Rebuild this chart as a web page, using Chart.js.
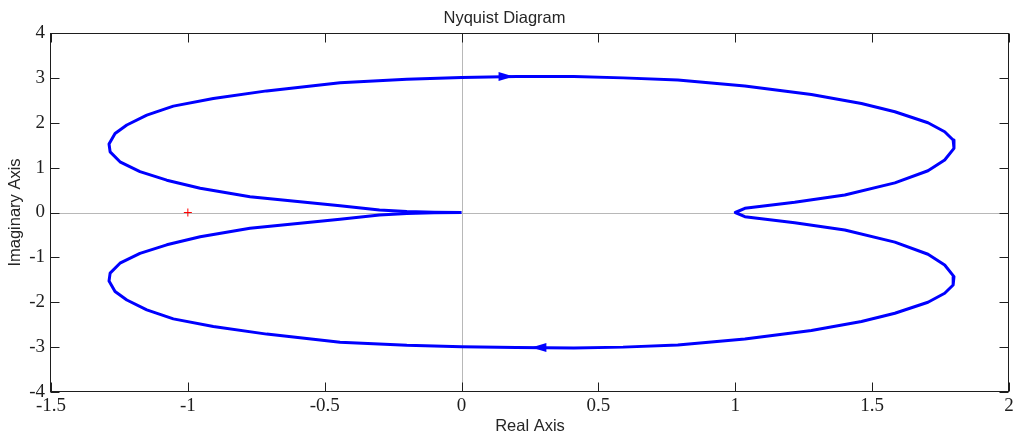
<!DOCTYPE html>
<html>
<head>
<meta charset="utf-8">
<script src="https://cdn.jsdelivr.net/npm/chart.js@4.4.0/dist/chart.umd.min.js"></script>
<style>
  html, body { margin: 0; padding: 0; background: #ffffff; }
  #wrap { width: 1018px; height: 435px; }
</style>
</head>
<body>
<div id="wrap"><canvas id="nyquist" width="1018" height="435"></canvas></div>
<script>
// Nyquist path, traversed from the origin: upper half (left lobe, top, right lobe), then lower half back.
const realPart = [
  0, -0.1, -0.2, -0.3, -0.444, -0.59, -0.773, -0.955, -1.077, -1.175, -1.248, -1.284, -1.288,
  -1.266, -1.223, -1.15, -1.053, -0.907, -0.712, -0.444, -0.2, 0, 0.2, 0.41, 0.59, 0.79,
  1.035, 1.278, 1.461, 1.583, 1.704, 1.765, 1.796, 1.799, 1.765, 1.704, 1.583, 1.40, 1.217,
  1.035, 1.0,
  1.035, 1.217, 1.40, 1.583, 1.704, 1.765, 1.799, 1.796, 1.765, 1.704, 1.583, 1.461, 1.278,
  1.035, 0.79, 0.59, 0.41, 0.2, 0, -0.2, -0.444, -0.712, -0.907, -1.053, -1.15, -1.223,
  -1.266, -1.288, -1.284, -1.248, -1.175, -1.077, -0.955, -0.773, -0.59, -0.444, -0.3, -0.2,
  -0.1, 0
];
const imagPart = [
  0, 0.005, 0.02, 0.055, 0.15, 0.24, 0.35, 0.54, 0.72, 0.91, 1.13, 1.35, 1.526,
  1.76, 1.95, 2.17, 2.37, 2.54, 2.71, 2.89, 2.97, 3.01, 3.03, 3.03, 3.0, 2.95,
  2.82, 2.63, 2.43, 2.245, 2.0, 1.8, 1.615, 1.43, 1.17, 0.93, 0.66, 0.39, 0.227,
  0.093, 0.0,
  -0.093, -0.227, -0.39, -0.66, -0.93, -1.17, -1.43, -1.615, -1.8, -2.0, -2.245, -2.43, -2.63,
  -2.82, -2.95, -3.0, -3.02, -3.01, -2.99, -2.96, -2.89, -2.71, -2.54, -2.37, -2.17, -1.95,
  -1.76, -1.526, -1.35, -1.13, -0.91, -0.72, -0.54, -0.35, -0.24, -0.15, -0.055, -0.02,
  -0.005, 0
];

// Direction arrows on the curve (tip position and heading: +1 = right, -1 = left)
const arrowRe = [0.19, 0.255];
const arrowIm = [3.03, -3.01];
const arrowDir = [1, -1];

// Critical point
const criticalRe = [-1];
const criticalIm = [0];

// Axis ticks
const xTickValues = [-1.5, -1, -0.5, 0, 0.5, 1, 1.5, 2];
const xTickLabels = ['-1.5', '-1', '-0.5', '0', '0.5', '1', '1.5', '2'];
const yTickValues = [-4, -3, -2, -1, 0, 1, 2, 3, 4];
const yTickLabels = ['-4', '-3', '-2', '-1', '0', '1', '2', '3', '4'];

const curvePoints = realPart.map((re, i) => ({ x: re, y: imagPart[i] }));
const criticalPoints = criticalRe.map((re, i) => ({ x: re, y: criticalIm[i] }));

const AXIS_COLOR = '#1e1e1e';
const TICK_LEN = 9;

// Zero lines under the data, axes box and inward ticks over it, plus arrowheads.
const axesDecor = {
  id: 'axesDecor',
  beforeDatasetsDraw(chart) {
    const { ctx, chartArea: a, scales: { x, y } } = chart;
    ctx.save();
    ctx.strokeStyle = '#b8b8b8';
    ctx.lineWidth = 1;
    const x0 = Math.round(x.getPixelForValue(0)) + 0.5;
    const y0 = Math.round(y.getPixelForValue(0)) + 0.5;
    ctx.beginPath();
    ctx.moveTo(x0, a.top); ctx.lineTo(x0, a.bottom);
    ctx.moveTo(a.left, y0); ctx.lineTo(a.right, y0);
    ctx.stroke();
    ctx.restore();
  },
  afterDatasetsDraw(chart) {
    const { ctx, chartArea: a, scales: { x, y } } = chart;
    ctx.save();
    // arrowheads
    ctx.fillStyle = '#0000ff';
    arrowRe.forEach((re, i) => {
      const px = x.getPixelForValue(re);
      const py = y.getPixelForValue(arrowIm[i]);
      const d = arrowDir[i];
      ctx.beginPath();
      ctx.moveTo(px, py);
      ctx.lineTo(px - d * 15, py - 4.5);
      ctx.lineTo(px - d * 15, py + 4.5);
      ctx.closePath();
      ctx.fill();
    });
    // axes box
    ctx.strokeStyle = AXIS_COLOR;
    ctx.lineWidth = 1;
    const L = Math.round(a.left) - 0.5, R = Math.round(a.right) - 0.5;
    const T = Math.round(a.top) + 0.5, B = Math.round(a.bottom) - 0.5;
    ctx.strokeRect(L, T, R - L, B - T);
    ctx.beginPath();
    xTickValues.forEach(v => {
      const px = Math.round(x.getPixelForValue(v)) + 0.5;
      ctx.moveTo(px, B); ctx.lineTo(px, B - TICK_LEN);
      ctx.moveTo(px, T); ctx.lineTo(px, T + TICK_LEN);
    });
    yTickValues.forEach(v => {
      const py = Math.round(y.getPixelForValue(v)) + 0.5;
      ctx.moveTo(L, py); ctx.lineTo(L + TICK_LEN, py);
      ctx.moveTo(R, py); ctx.lineTo(R - TICK_LEN, py);
    });
    ctx.stroke();
    ctx.restore();
  }
};

new Chart(document.getElementById('nyquist'), {
  type: 'scatter',
  data: {
    datasets: [
      {
        data: curvePoints,
        showLine: true,
        borderColor: '#0000ff',
        borderWidth: 3,
        pointRadius: 0,
        tension: 0,
        fill: false,
        borderJoinStyle: 'round'
      },
      {
        data: criticalPoints,
        showLine: false,
        pointStyle: 'cross',
        pointRadius: 4,
        borderColor: '#ff0000',
        borderWidth: 1
      }
    ]
  },
  options: {
    responsive: false,
    animation: false,
    events: [],
    layout: { padding: { left: 0, right: 9, top: 0, bottom: 0 } },
    plugins: {
      legend: { display: false },
      tooltip: { enabled: false },
      title: {
        display: true,
        text: 'Nyquist Diagram',
        color: '#262626',
        font: { family: 'Liberation Sans', size: 16.5, weight: 'normal', lineHeight: 1.2 },
        padding: { top: 8.5, bottom: 4.7 }
      }
    },
    scales: {
      x: {
        type: 'linear',
        min: -1.5,
        max: 2,
        afterBuildTicks: s => { s.ticks = xTickValues.map(v => ({ value: v })); },
        afterFit: s => { s.height = 43; },
        ticks: {
          callback: v => xTickLabels[xTickValues.indexOf(v)],
          color: AXIS_COLOR,
          font: { family: 'Liberation Serif', size: 19 },
          padding: 3,
          maxRotation: 0,
          autoSkip: false
        },
        grid: { display: false, drawTicks: false },
        border: { display: false },
        title: {
          display: true,
          text: 'Real Axis',
          color: '#262626',
          font: { family: 'Liberation Sans', size: 16.5, lineHeight: 1 },
          padding: { top: 0, bottom: 0 }
        }
      },
      y: {
        type: 'linear',
        min: -4,
        max: 4,
        afterBuildTicks: s => { s.ticks = yTickValues.map(v => ({ value: v })); },
        afterFit: s => { s.width = 51; },
        ticks: {
          callback: v => yTickLabels[yTickValues.indexOf(v)],
          color: AXIS_COLOR,
          font: { family: 'Liberation Serif', size: 19 },
          padding: 6,
          autoSkip: false
        },
        grid: { display: false, drawTicks: false },
        border: { display: false },
        title: {
          display: true,
          text: 'Imaginary Axis',
          color: '#262626',
          font: { family: 'Liberation Sans', size: 16.5, lineHeight: 1 },
          padding: { top: 7, bottom: 0 }
        }
      }
    }
  },
  plugins: [axesDecor]
});
</script>
</body>
</html>
